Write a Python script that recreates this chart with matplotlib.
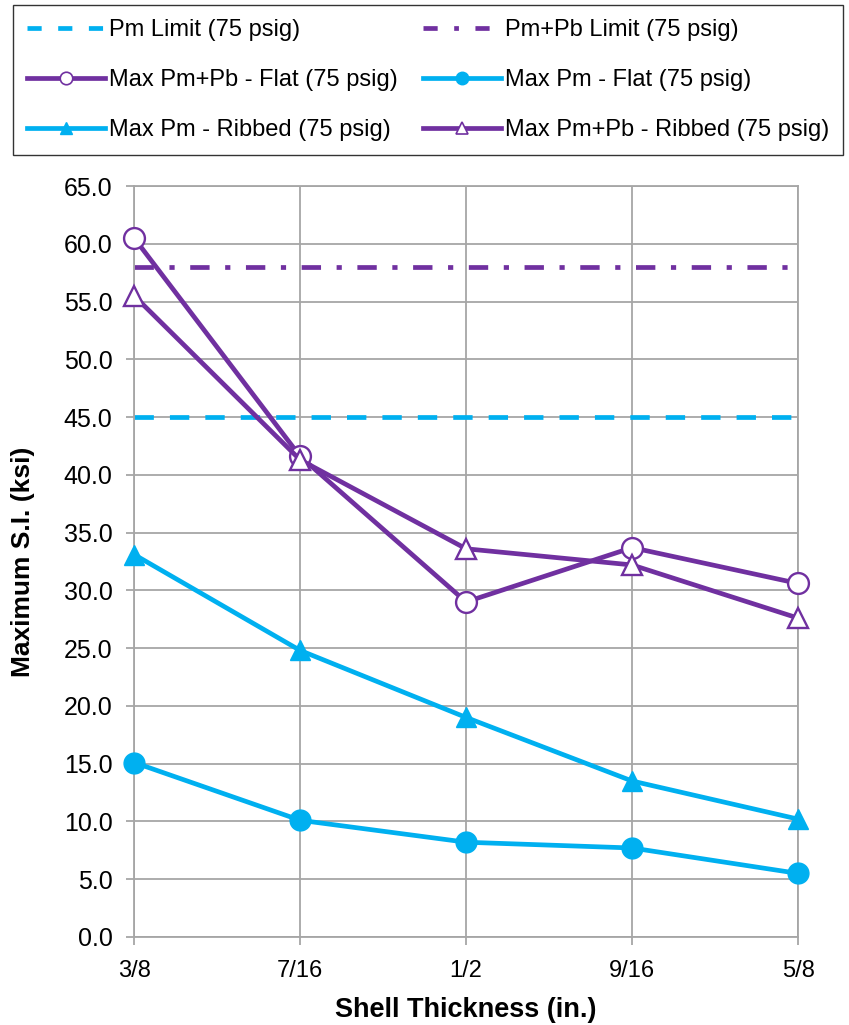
import matplotlib
matplotlib.use("Agg")
import matplotlib.pyplot as plt
from matplotlib.lines import Line2D

plt.rcParams['font.family'] = ['Liberation Sans', 'DejaVu Sans']

thickness = ["3/8", "7/16", "1/2", "9/16", "5/8"]
pmpb_flat = [60.5, 41.6, 29.0, 33.7, 30.6]
pmpb_ribbed = [55.5, 41.3, 33.6, 32.2, 27.6]
pm_ribbed = [33.1, 24.8, 19.0, 13.5, 10.2]
pm_flat = [15.1, 10.1, 8.2, 7.7, 5.5]
pm_limit = 45.0
pmpb_limit = 58.0

CYAN = "#00B0F0"
PURPLE = "#7030A0"
GRID = "#A6A6A6"
LW = 3.4

fig = plt.figure(figsize=(8.49, 10.25), dpi=100)
ax = fig.add_axes([0.158, 0.0859, 0.782, 0.7326])

x = list(range(len(thickness)))

ax.plot(x, [pm_limit] * len(x), color=CYAN, lw=LW,
        dashes=(4.1, 3.4), dash_capstyle='butt')
ax.plot(x, [pmpb_limit] * len(x), color=PURPLE, lw=LW,
        dashes=(4.1, 3.3, 1.1, 3.3), dash_capstyle='butt')
ax.plot(x, pmpb_flat, color=PURPLE, lw=LW, marker='o', ms=15,
        mfc='white', mec=PURPLE, mew=1.7, zorder=4, clip_on=False)
ax.plot(x, pm_flat, color=CYAN, lw=LW, marker='o', ms=15,
        mfc=CYAN, mec=CYAN, zorder=4, clip_on=False)
ax.plot(x, pm_ribbed, color=CYAN, lw=LW, marker='^', ms=15,
        mfc=CYAN, mec=CYAN, zorder=4, clip_on=False)
ax.plot(x, pmpb_ribbed, color=PURPLE, lw=LW, marker='^', ms=15,
        mfc='white', mec=PURPLE, mew=1.7, zorder=4, clip_on=False)

ax.set_xlim(0, 4)
ax.set_ylim(0, 65)
ax.set_yticks([i * 5 for i in range(14)])
ax.set_yticklabels([f"{i * 5:.1f}" for i in range(14)])
ax.set_xticks(x)
ax.set_xticklabels(thickness)
ax.grid(True, color=GRID, lw=1.3)
ax.set_axisbelow(True)
for s in ax.spines.values():
    s.set_color(GRID)
    s.set_linewidth(1.3)
ax.tick_params(axis='both', colors=GRID, length=5.5, width=1.3,
               labelcolor='black')
ax.tick_params(axis='y', labelsize=18, pad=10)
ax.tick_params(axis='x', labelsize=17, pad=11)

ax.set_xlabel("Shell Thickness (in.)", fontsize=19.5, fontweight='bold', labelpad=11)
ax.set_ylabel("Maximum S.I. (ksi)", fontsize=19, fontweight='bold', labelpad=21)

labels = ["Pm Limit (75 psig)", "Max Pm+Pb - Flat (75 psig)", "Max Pm - Ribbed (75 psig)",
          "Pm+Pb Limit (75 psig)", "Max Pm - Flat (75 psig)", "Max Pm+Pb - Ribbed (75 psig)"]
leg_handles = [
    Line2D([], [], color=CYAN, lw=LW, dashes=(3, 3.5)),
    Line2D([], [], color=PURPLE, lw=LW, marker='o', ms=9, mfc='white', mec=PURPLE, mew=1.2),
    Line2D([], [], color=CYAN, lw=LW, marker='^', ms=9, mfc=CYAN, mec=CYAN),
    Line2D([], [], color=PURPLE, lw=LW, dashes=(3, 3.5, 1, 3.5)),
    Line2D([], [], color=CYAN, lw=LW, marker='o', ms=9, mfc=CYAN, mec=CYAN),
    Line2D([], [], color=PURPLE, lw=LW, marker='^', ms=9, mfc='white', mec=PURPLE, mew=1.2),
]
leg = fig.legend(leg_handles, labels, ncol=2, loc='upper left',
                 bbox_to_anchor=(13 / 849, 1 - 155 / 1025, 830 / 849, 150 / 1025),
                 mode='expand', fontsize=17, frameon=True, fancybox=False,
                 edgecolor='black', handlelength=3.3, handletextpad=0.15,
                 labelspacing=1.18, borderaxespad=0, borderpad=0.6, columnspacing=1.0)
leg.get_frame().set_linewidth(1.0)

fig.savefig("out.png", dpi=100)
